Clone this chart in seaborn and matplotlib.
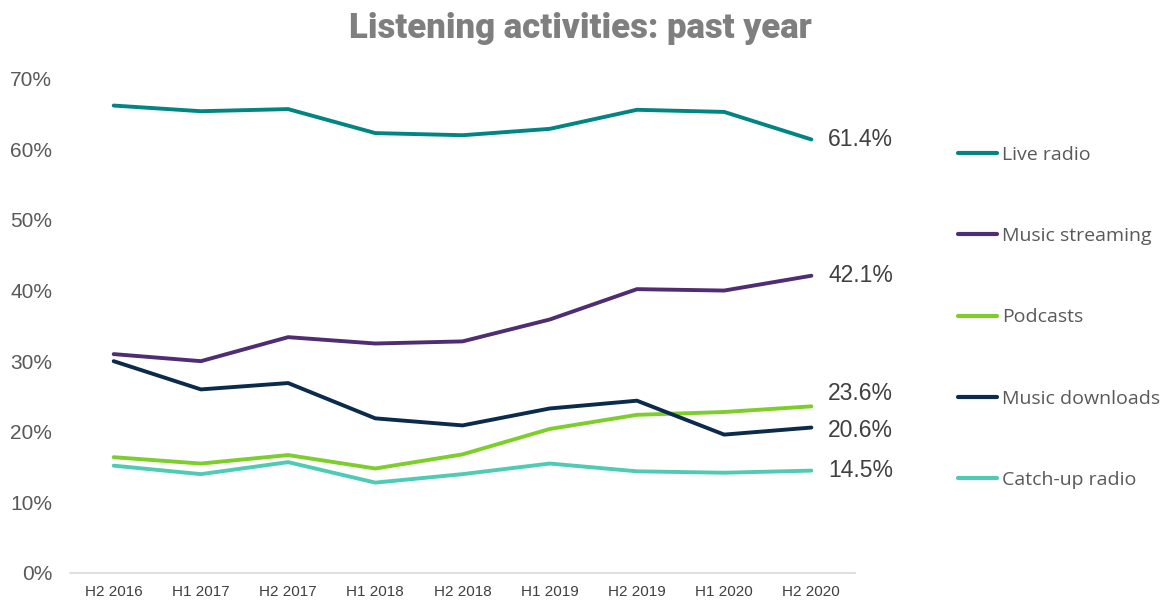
import numpy as np
import pandas as pd
import seaborn as sns
import matplotlib.pyplot as plt
from matplotlib.ticker import PercentFormatter
from matplotlib.lines import Line2D

periods = ["H2 2016", "H1 2017", "H2 2017", "H1 2018", "H2 2018",
           "H1 2019", "H2 2019", "H1 2020", "H2 2020"]

live_radio = [66.2, 65.4, 65.7, 62.3, 62.0, 62.9, 65.6, 65.3, 61.4]
music_streaming = [31.0, 30.0, 33.4, 32.5, 32.8, 35.9, 40.2, 40.0, 42.1]
podcasts = [16.4, 15.5, 16.7, 14.8, 16.8, 20.4, 22.4, 22.8, 23.6]
music_downloads = [30.0, 26.0, 26.9, 21.9, 20.9, 23.3, 24.4, 19.6, 20.6]
catchup_radio = [15.2, 14.0, 15.7, 12.8, 14.0, 15.5, 14.4, 14.2, 14.5]

series_names = ["Live radio", "Music streaming", "Podcasts",
                "Music downloads", "Catch-up radio"]
series_values = [live_radio, music_streaming, podcasts,
                 music_downloads, catchup_radio]
series_colors = ["#008583", "#4F2D72", "#7DCE2B", "#0B2B4D", "#4FCBB5"]

rows = []
for name, vals in zip(series_names, series_values):
    for p, v in zip(periods, vals):
        rows.append({"period": p, "share": v, "activity": name})
df = pd.DataFrame(rows)

sns.set_theme(style="white")
plt.rcParams["font.family"] = ["Liberation Sans", "DejaVu Sans"]

fig = plt.figure(figsize=(11.68, 6.01), dpi=100)
ax = fig.add_axes([0.06, 0.0466, 0.672, 0.8224])

sns.lineplot(data=df, x="period", y="share", hue="activity",
             hue_order=series_names, palette=series_colors,
             linewidth=2.8, ax=ax, sort=False, legend=False)
for ln in ax.lines:
    ln.set_solid_capstyle("round")
    ln.set_solid_joinstyle("round")

ax.set_xlim(-0.5, len(periods) - 0.5)
ax.set_ylim(0, 70)
ax.set_yticks(np.arange(0, 71, 10))
ax.yaxis.set_major_formatter(PercentFormatter(decimals=0))
ax.set_xlabel("")
ax.set_ylabel("")
ax.grid(False)

for side in ["top", "right", "left"]:
    ax.spines[side].set_visible(False)
ax.spines["bottom"].set_color("#D9D9D9")
ax.spines["bottom"].set_linewidth(1.2)

ax.tick_params(axis="y", length=0, labelsize=15, labelcolor="#595959", pad=13)
ax.tick_params(axis="x", length=0, labelsize=11, labelcolor="#404040", pad=9)
for lbl in ax.get_xticklabels():
    lbl.set_family(["Liberation Sans Narrow", "Liberation Sans", "DejaVu Sans"])

# End-of-line value labels, nudged apart where lines end close together
label_nudge = [0, 0, 9, -2, 0]
last = len(periods) - 1
for vals, dy in zip(series_values, label_nudge):
    ax.annotate(f"{vals[-1]:.1f}%", xy=(last, vals[-1]), xytext=(12, dy),
                textcoords="offset points", va="center", ha="left",
                fontsize=16.5, color="#404040", annotation_clip=False)

# Legend on the right
handles = [Line2D([0], [0], color=c, linewidth=3, solid_capstyle="round")
           for c in series_colors]
fig.legend(handles, series_names, loc="upper left",
           bbox_to_anchor=(0.8135, 0.77), frameon=False,
           prop={"family": ["Open Sans", "DejaVu Sans"], "size": 14},
           labelcolor="#595959", handlelength=2.0,
           handletextpad=0.25, labelspacing=3.25, borderaxespad=0)

fig.text(0.497, 0.953, "Listening activities: past year", ha="center",
         va="center", fontsize=25, fontweight="black", color="#7F7F7F",
         family=["Roboto", "DejaVu Sans"])

fig.savefig("out.png", dpi=100)
